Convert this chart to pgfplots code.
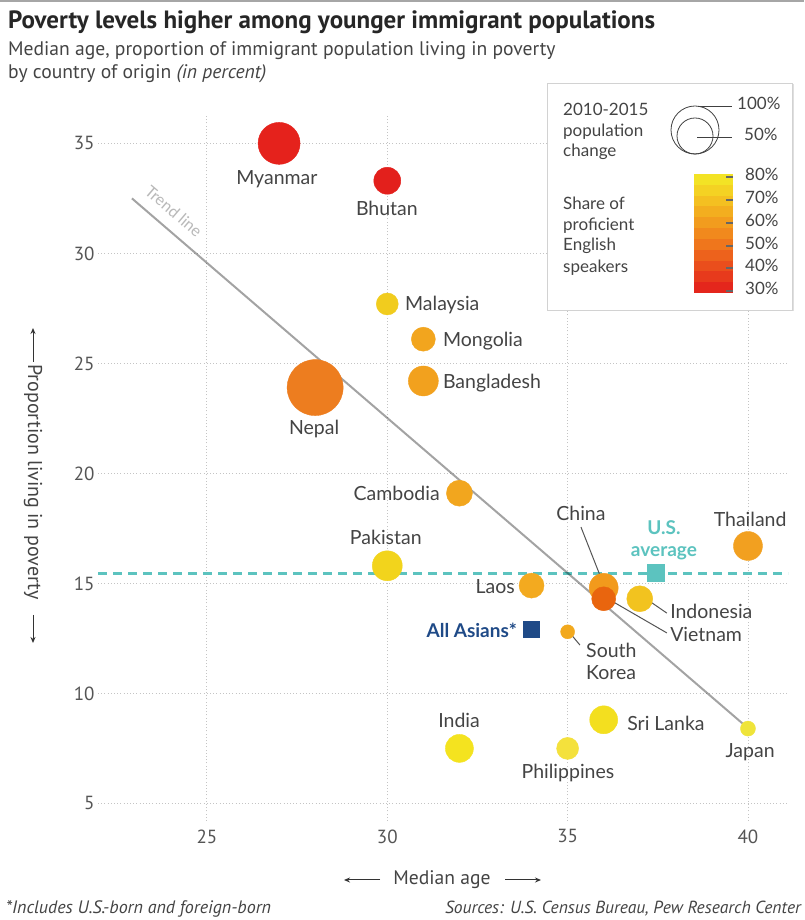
\documentclass[border=0pt]{standalone}
\usepackage{pgfplots}
\pgfplotsset{compat=1.18}
\usepackage{fontspec}
\setmainfont{Lato}
\newfontfamily\ptsans{PT Sans}
\usetikzlibrary{shadows,arrows.meta}

\definecolor{txt}{HTML}{444444}
\definecolor{tick}{HTML}{555555}
\definecolor{gridc}{HTML}{C4C4C4}
\definecolor{teal}{HTML}{5CC3BF}
\definecolor{asians}{HTML}{1F4A87}
\definecolor{cMyanmar}{HTML}{E5221C}
\definecolor{cBhutan}{HTML}{E3201C}
\definecolor{cNepal}{HTML}{ED7D1F}
\definecolor{cMalaysia}{HTML}{F1CC1E}
\definecolor{cMongolia}{HTML}{F2A51E}
\definecolor{cBangladesh}{HTML}{F2A11E}
\definecolor{cCambodia}{HTML}{F2A61E}
\definecolor{cPakistan}{HTML}{F2D41C}
\definecolor{cLaos}{HTML}{F3AA1F}
\definecolor{cChina}{HTML}{F29A1C}
\definecolor{cVietnam}{HTML}{E9650E}
\definecolor{cIndonesia}{HTML}{F2C31F}
\definecolor{cKorea}{HTML}{F2A91E}
\definecolor{cThailand}{HTML}{F2A020}
\definecolor{cIndia}{HTML}{F4E31F}
\definecolor{cPhilippines}{HTML}{F4E13C}
\definecolor{cSriLanka}{HTML}{F3DF1F}
\definecolor{cJapan}{HTML}{EFE43A}
\definecolor{cb0}{HTML}{E4261C}
\definecolor{cb1}{HTML}{E73A1C}
\definecolor{cb2}{HTML}{EA4E1C}
\definecolor{cb3}{HTML}{ED621C}
\definecolor{cb4}{HTML}{EF761C}
\definecolor{cb5}{HTML}{F1891D}
\definecolor{cb6}{HTML}{F29C1E}
\definecolor{cb7}{HTML}{F3AE1F}
\definecolor{cb8}{HTML}{F4C021}
\definecolor{cb9}{HTML}{F4D223}
\definecolor{cb10}{HTML}{F3E325}

\begin{document}
\begin{tikzpicture}[x=1pt,y=1pt,
  lbl/.style={inner sep=0pt, text height=0.72em, text depth=0pt, yshift=-4pt, text=txt, font=\fontsize{19.5}{22}\selectfont},
  bl/.style={inner sep=0pt, text height=0.72em, text depth=0pt, yshift=-4pt, font=\bfseries\fontsize{19}{22}\selectfont},
  lead/.style={draw=tick, line width=1pt}]
\useasboundingbox (0pt,0pt) rectangle (804pt,920pt);
\fill[white] (0pt,0pt) rectangle (804pt,920pt);
\fill[gray!70] (0pt,918pt) rectangle (804pt,920pt);

% titles
\node[anchor=base west, inner sep=0pt, text=black!85] at (8pt,891pt)
  {\ptsans\bfseries\fontsize{25}{29}\selectfont Poverty levels higher among younger immigrant populations};
\node[anchor=base west, inner sep=0pt, text=txt] at (8pt,864pt)
  {\ptsans\fontsize{19.6}{23}\selectfont Median age, proportion of immigrant population living in poverty};
\node[anchor=base west, inner sep=0pt, text=txt] at (8pt,841pt)
  {\ptsans\fontsize{19.6}{23}\selectfont by country of origin \itshape(in percent)};

\begin{axis}[
  at={(98pt,99pt)}, anchor=south west,
  scale only axis, width=690pt, height=706pt,
  xmin=21.98, xmax=41.11, ymin=4.2, ymax=36.29,
  xtick={25,30,35,40}, ytick={5,10,15,20,25,30,35},
  grid=major,
  major grid style={draw=gridc, line width=0.9pt, dash pattern=on 1pt off 2.2pt},
  axis line style={draw=none},
  major tick length=0pt,
  tick label style={text=tick, font=\ptsans\fontsize{19}{22}\selectfont},
  x tick label style={yshift=-5pt},
  /pgf/number format/assume math mode=true,
  clip=false,
]
% bubbles: (median age, % in poverty); mark size = bubble radius
\addplot[only marks, mark=*, mark size=21pt, color=cMyanmar] coordinates {(27,35.0)};
\addplot[only marks, mark=*, mark size=13.5pt, color=cBhutan] coordinates {(30,33.3)};
\addplot[only marks, mark=*, mark size=11pt, color=cMalaysia] coordinates {(30,27.7)};
\addplot[only marks, mark=*, mark size=12pt, color=cMongolia] coordinates {(31,26.1)};
\addplot[only marks, mark=*, mark size=15pt, color=cBangladesh] coordinates {(31,24.2)};
\addplot[only marks, mark=*, mark size=28pt, color=cNepal] coordinates {(28,23.9)};
\addplot[only marks, mark=*, mark size=13pt, color=cCambodia] coordinates {(32,19.1)};
\addplot[only marks, mark=*, mark size=15pt, color=cPakistan] coordinates {(30,15.8)};
\addplot[only marks, mark=*, mark size=12.5pt, color=cLaos] coordinates {(34,14.9)};
\addplot[only marks, mark=*, mark size=14.5pt, color=cChina] coordinates {(36,14.8)};
\addplot[only marks, mark=*, mark size=12pt, color=cVietnam] coordinates {(36,14.3)};
\addplot[only marks, mark=*, mark size=13pt, color=cIndonesia] coordinates {(37,14.3)};
\addplot[only marks, mark=*, mark size=7pt, color=cKorea] coordinates {(35,12.8)};
\addplot[only marks, mark=*, mark size=14.5pt, color=cThailand] coordinates {(40,16.7)};
\addplot[only marks, mark=*, mark size=14pt, color=cIndia] coordinates {(32,7.5)};
\addplot[only marks, mark=*, mark size=11pt, color=cPhilippines] coordinates {(35,7.5)};
\addplot[only marks, mark=*, mark size=14pt, color=cSriLanka] coordinates {(36,8.8)};
\addplot[only marks, mark=*, mark size=7.5pt, color=cJapan] coordinates {(40,8.4)};
% U.S. average line and markers
\addplot[teal, line width=3pt, dash pattern=on 9pt off 6pt] coordinates {(21.98,15.47) (41.11,15.47)};
\addplot[only marks, mark=square*, mark size=8.5pt, color=teal] coordinates {(37.45,15.47)};
\addplot[only marks, mark=square*, mark size=8pt, color=asians] coordinates {(34,12.9)};
% trend line
\addplot[black, opacity=0.36, line width=2pt] coordinates {(22.92,32.5) (40.0,8.42)};

\node[rotate=-40.5, inner sep=0pt, text=gray!55, font=\fontsize{16}{18}\selectfont] at (axis cs:24.08,31.92) {Trend line};

% leader lines
\draw[lead] (axis cs:35.37,17.56) -- (axis cs:35.98,15.02);
\draw[lead] (axis cs:36.17,14.25) -- (axis cs:37.75,12.75);
\draw[lead] (axis cs:37.14,14.34) -- (axis cs:37.75,13.65);
\draw[lead] (axis cs:35.04,12.79) -- (axis cs:35.34,12.2);

% labels
\node[lbl] at (axis cs:26.94,33.47) {Myanmar};
\node[lbl] at (axis cs:29.99,32.06) {Bhutan};
\node[lbl, anchor=west] at (axis cs:30.49,27.75) {Malaysia};
\node[lbl, anchor=west] at (axis cs:31.54,26.11) {Mongolia};
\node[lbl, anchor=west] at (axis cs:31.54,24.2) {Bangladesh};
\node[lbl] at (axis cs:27.97,22.11) {Nepal};
\node[lbl, anchor=east] at (axis cs:31.46,19.11) {Cambodia};
\node[lbl] at (axis cs:29.96,17.11) {Pakistan};
\node[lbl, anchor=east] at (axis cs:33.54,14.88) {Laos};
\node[lbl] at (axis cs:35.37,18.2) {China};
\node[bl, text=teal] at (axis cs:37.67,17.56) {U.S.};
\node[bl, text=teal] at (axis cs:37.67,16.56) {average};
\node[lbl] at (axis cs:40.06,17.93) {Thailand};
\node[bl, anchor=east, text=asians] at (axis cs:33.6,12.88) {All Asians*};
\node[lbl, anchor=west] at (axis cs:37.84,13.75) {Indonesia};
\node[lbl, anchor=west] at (axis cs:37.84,12.70) {Vietnam};
\node[lbl, anchor=west] at (axis cs:35.51,11.97) {South};
\node[lbl, anchor=west] at (axis cs:35.51,10.97) {Korea};
\node[lbl] at (axis cs:31.99,8.79) {India};
\node[lbl, anchor=west] at (axis cs:36.65,8.65) {Sri Lanka};
\node[lbl] at (axis cs:35.01,6.47) {Philippines};
\node[lbl] at (axis cs:40.06,7.43) {Japan};
\end{axis}

% axis titles
\node[text=txt, inner sep=0pt, font=\ptsans\fontsize{19.6}{23}\selectfont] at (442pt,40pt) {Median age};
\draw[-{Stealth[length=6pt,width=5pt]}, line width=1pt, black!80] (380pt,40pt) -- (344pt,40pt);
\draw[-{Stealth[length=6pt,width=5pt]}, line width=1pt, black!80] (505pt,40pt) -- (541pt,40pt);
\node[rotate=-90, text=txt, inner sep=0pt, font=\ptsans\fontsize{20}{23}\selectfont] at (33pt,438pt) {Proportion living in poverty};
\draw[-{Stealth[length=6pt,width=5pt]}, line width=1pt, black!80] (33pt,558pt) -- (33pt,592pt);
\draw[-{Stealth[length=6pt,width=5pt]}, line width=1pt, black!80] (33pt,305pt) -- (33pt,277pt);

% footnotes
\node[anchor=base west, inner sep=0pt, text=txt, font=\ptsans\itshape\fontsize{18}{21}\selectfont] at (6pt,6pt) {*Includes U.S.-born and foreign-born};
\node[anchor=base east, inner sep=0pt, text=txt, font=\ptsans\itshape\fontsize{17.5}{21}\selectfont] at (801pt,6pt) {Sources: U.S. Census Bureau, Pew Research Center};

% legend box
\draw[draw=gray!35, fill=white, drop shadow={shadow xshift=1.5pt, shadow yshift=-1.5pt, opacity=0.25}] (547pt,610pt) rectangle (792pt,837pt);
\begin{scope}[every node/.style={inner sep=0pt, anchor=west, text height=0.72em, text depth=0pt, text=txt, font=\fontsize{17}{20}\selectfont}]
\node at (563pt,808pt) {2010-2015};
\node at (563pt,787pt) {population};
\node at (563pt,767pt) {change};
\node at (563pt,714pt) {Share of};
\node at (563pt,693pt) {proficient};
\node at (563pt,673pt) {English};
\node at (563pt,651pt) {speakers};
\node at (737pt,814pt) {100\%};
\node at (744pt,783pt) {50\%};
\node at (745pt,743pt) {80\%};
\node at (745pt,720pt) {70\%};
\node at (745pt,697pt) {60\%};
\node at (745pt,674pt) {50\%};
\node at (745pt,652pt) {40\%};
\node at (745pt,629pt) {30\%};
\end{scope}
\draw[black!75, line width=0.8pt] (695pt,790pt) circle (24pt);
\draw[black!75, line width=0.8pt] (695pt,784pt) circle (18pt);
\draw[black!75, line width=0.8pt] (698pt,814pt) -- (732pt,814pt);
\draw[black!75, line width=0.8pt] (697pt,783pt) -- (732pt,783pt);
\foreach \c [count=\i from 0] in {cb0,cb1,cb2,cb3,cb4,cb5,cb6,cb7,cb8,cb9,cb10}{
  \fill[\c] (694pt,{627pt+\i*10.818pt}) rectangle (733pt,{627pt+(\i+1)*10.818pt+0.3pt});
}
\foreach \yy in {743,720,697,674,652,629}{
  \draw[black!60, line width=1.2pt] (726pt,\yy pt) -- (733pt,\yy pt);
}
\end{tikzpicture}
\end{document}
